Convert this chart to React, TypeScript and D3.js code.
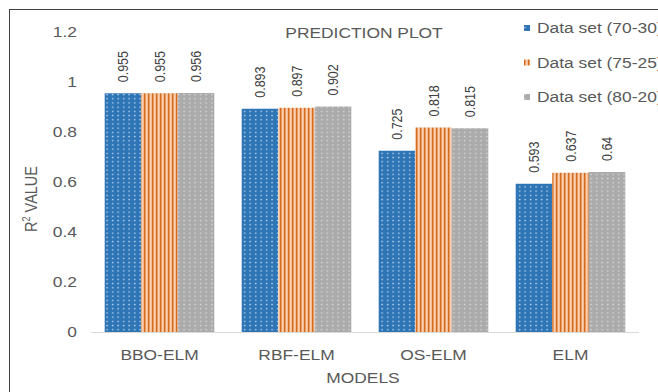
import React from "react";
import * as d3 from "d3";

const models = ["BBO-ELM", "RBF-ELM", "OS-ELM", "ELM"];
const seriesNames = ["Data set (70-30)", "Data set (75-25)", "Data set (80-20)"];
const set7030 = [0.955, 0.893, 0.725, 0.593];
const set7525 = [0.955, 0.897, 0.818, 0.637];
const set8020 = [0.956, 0.902, 0.815, 0.64];
const yTicks = [0, 0.2, 0.4, 0.6, 0.8, 1, 1.2];

const W = 658;
const H = 392;
const margin = { left: 91, right: 19, top: 32, bottom: 60 };
const font = "'Liberation Sans', Arial, sans-serif";
const textColor = "#595959";
// Text is drawn slightly wide, as in a horizontally stretched export.
const SX = 1.2;

type TProps = {
  x: number;
  y: number;
  anchor?: "start" | "middle" | "end";
  size?: number;
  fill?: string;
  rotate?: number;
  children: React.ReactNode;
};

function WideText({ x, y, anchor = "start", size = 14.5, fill = textColor, rotate = 0, children }: TProps) {
  return (
    <g transform={`translate(${x},${y}) scale(${SX},1) rotate(${rotate})`}>
      <text textAnchor={anchor} dy="0.35em" fontFamily={font} fontSize={size} fill={fill}>
        {children}
      </text>
    </g>
  );
}

export default function App() {
  const series = [set7030, set7525, set8020];
  const fills = ["url(#patBlue)", "url(#patOrange)", "url(#patGray)"];

  const x = d3
    .scaleBand<string>()
    .domain(models)
    .range([margin.left, W - margin.right])
    .paddingInner(0.2)
    .paddingOuter(0.1);
  const xs = d3
    .scaleBand<number>()
    .domain([0, 1, 2])
    .range([0, x.bandwidth()]);
  const y = d3
    .scaleLinear()
    .domain([0, 1.2])
    .range([H - margin.bottom, margin.top]);

  const fmt = (v: number) => (v === 0 ? "0" : d3.format("~g")(v));

  return (
    <svg
      width={W}
      height={H}
      style={{ position: "absolute", left: 0, top: 0, background: "#fff" }}
    >
      <defs>
        <pattern id="patBlue" width="5.5" height="4.2" patternUnits="userSpaceOnUse">
          <rect width="5.5" height="4.2" fill="#2E75B6" />
          <rect x="2" y="1.5" width="1.3" height="1.3" fill="#d6e5f3" />
        </pattern>
        <pattern id="patOrange" width="4" height="4" patternUnits="userSpaceOnUse">
          <rect width="4" height="4" fill="#F4B183" />
          <rect x="0" width="1.3" height="4" fill="#D36B1F" />
          <rect x="2.4" width="0.8" height="4" fill="#FBE3D1" />
        </pattern>
        <pattern id="patGray" width="5.5" height="4.2" patternUnits="userSpaceOnUse">
          <rect width="5.5" height="4.2" fill="#ABABAB" />
          <rect x="2" y="1.5" width="1.3" height="1.3" fill="#dedede" />
        </pattern>
      </defs>

      <rect x={9.5} y={9.5} width={800} height={600} fill="none" stroke="#404040" strokeWidth={1} />

      <WideText x={364} y={33} anchor="middle">
        PREDICTION PLOT
      </WideText>

      {yTicks.map((t) => (
        <WideText key={t} x={77} y={y(t)} anchor="end">
          {fmt(t)}
        </WideText>
      ))}

      {models.map((m, i) => (
        <g key={m}>
          {series.map((s, k) => {
            const bx = (x(m) as number) + (xs(k) as number);
            const bw = xs.bandwidth();
            const v = s[i];
            return (
              <g key={k}>
                <rect x={bx} y={y(v)} width={bw} height={y(0) - y(v)} fill={fills[k]} />
                <WideText x={bx + bw / 2} y={y(v) - 11} rotate={-90} size={12.5} fill="#404040">
                  {String(v)}
                </WideText>
              </g>
            );
          })}
          <WideText x={(x(m) as number) + x.bandwidth() / 2} y={355} anchor="middle">
            {m}
          </WideText>
        </g>
      ))}

      <line
        x1={margin.left}
        x2={W - margin.right}
        y1={y(0) + 0.5}
        y2={y(0) + 0.5}
        stroke="#D9D9D9"
        strokeWidth={1}
      />

      <WideText x={363} y={378} anchor="middle">
        MODELS
      </WideText>

      <g transform={`translate(31,199) scale(${SX},1) rotate(-90)`}>
        <text textAnchor="middle" dy="0.35em" fontFamily={font} fontSize={14.5} fill={textColor}>
          R<tspan fontSize={9} dy={-6}>2</tspan>
          <tspan dy={6}> VALUE</tspan>
        </text>
      </g>

      {seriesNames.map((n, k) => (
        <g key={n}>
          <rect x={524} y={28 + k * 34.5 - 3} width={6} height={6} fill={fills[k]} />
          <WideText x={537} y={28 + k * 34.5}>
            {n}
          </WideText>
        </g>
      ))}
    </svg>
  );
}
